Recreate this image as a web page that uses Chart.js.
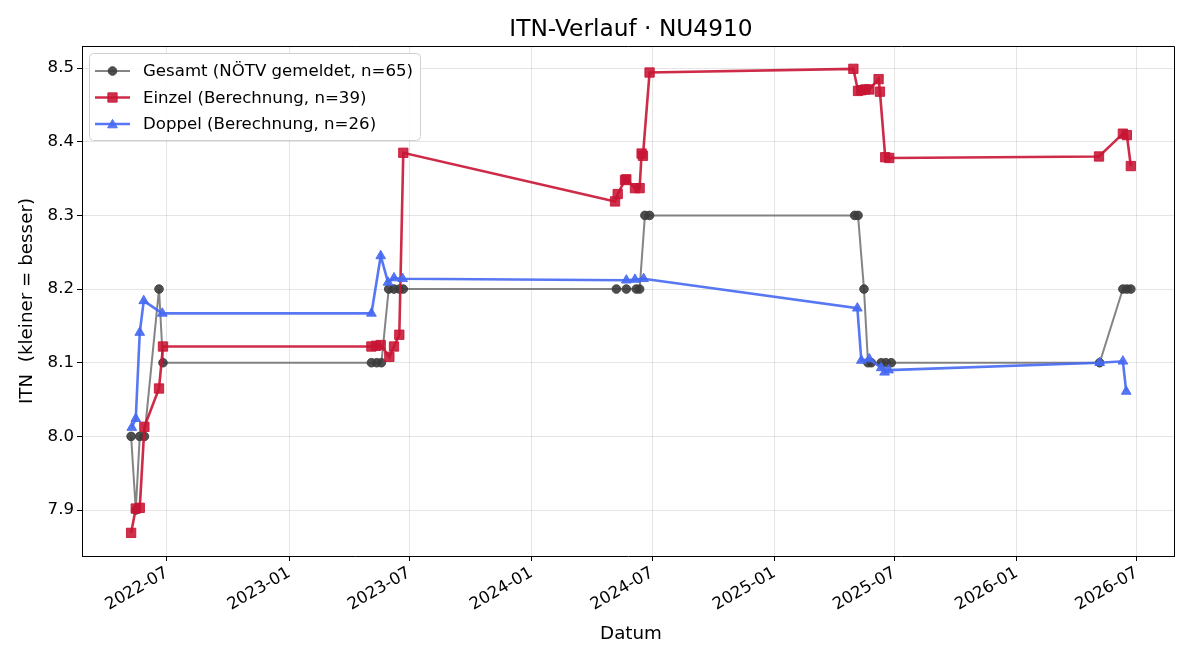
<!DOCTYPE html>
<html>
<head>
<meta charset="utf-8">
<script src="https://cdn.jsdelivr.net/npm/chart.js@4.4.1/dist/chart.umd.min.js"></script>
<style>
  html, body { margin: 0; padding: 0; background: #fff; }
  #wrap { width: 1200px; height: 660px; position: relative; }
</style>
</head>
<body>
<div id="wrap"><canvas id="c" width="1200" height="660"></canvas></div>
<script>
// ---- data ----
const chartTitle = "ITN-Verlauf · NU4910";
const xAxisTitle = "Datum";
const yAxisTitle = "ITN  (kleiner = besser)";

const gesamtLabel = "Gesamt (NÖTV gemeldet, n=65)";
const gesamtDates = [
  "2022-05-08","2022-05-15","2022-05-21","2022-05-28","2022-06-19","2022-06-25",
  "2023-05-05","2023-05-13","2023-05-20","2023-05-31","2023-06-08","2023-06-16","2023-06-22",
  "2024-05-08","2024-05-23","2024-06-07","2024-06-12","2024-06-20","2024-06-27",
  "2025-05-02","2025-05-07","2025-05-16","2025-05-22","2025-05-27","2025-06-11","2025-06-18","2025-06-26",
  "2026-05-06","2026-06-10","2026-06-16","2026-06-22"
];
const gesamtValues = [
  8.0, 7.9, 8.0, 8.0, 8.2, 8.1,
  8.1, 8.1, 8.1, 8.2, 8.2, 8.2, 8.2,
  8.2, 8.2, 8.2, 8.2, 8.3, 8.3,
  8.3, 8.3, 8.2, 8.1, 8.1, 8.1, 8.1, 8.1,
  8.1, 8.2, 8.2, 8.2
];

const einzelLabel = "Einzel (Berechnung, n=39)";
const einzelDates = [
  "2022-05-08","2022-05-15","2022-05-21","2022-05-28","2022-06-19","2022-06-25",
  "2023-05-05","2023-05-12","2023-05-19","2023-06-01","2023-06-08","2023-06-16","2023-06-22",
  "2024-05-06","2024-05-10","2024-05-21","2024-05-23","2024-06-05","2024-06-12","2024-06-15","2024-06-17","2024-06-27",
  "2025-04-30","2025-05-07","2025-05-12","2025-05-18","2025-05-24","2025-06-07","2025-06-09","2025-06-17","2025-06-23",
  "2026-05-05","2026-06-10","2026-06-16","2026-06-22"
];
const einzelValues = [
  7.869, 7.902, 7.903, 8.013, 8.065, 8.122,
  8.122, 8.123, 8.124, 8.108, 8.122, 8.138, 8.385,
  8.319, 8.329, 8.348, 8.349, 8.337, 8.337, 8.384, 8.381, 8.494,
  8.499, 8.469, 8.470, 8.471, 8.471, 8.485, 8.468, 8.379, 8.378,
  8.380, 8.411, 8.409, 8.367
];

const doppelLabel = "Doppel (Berechnung, n=26)";
const doppelDates = [
  "2022-05-09","2022-05-15","2022-05-21","2022-05-27","2022-06-24",
  "2023-05-05","2023-05-19","2023-05-30","2023-06-08","2023-06-21",
  "2024-05-23","2024-06-05","2024-06-18",
  "2025-05-06","2025-05-12","2025-05-24","2025-06-11","2025-06-16","2025-06-22",
  "2026-05-06","2026-06-10","2026-06-15"
];
const doppelValues = [
  8.012, 8.024, 8.141, 8.184, 8.167,
  8.167, 8.245, 8.209, 8.215, 8.214,
  8.212, 8.213, 8.214,
  8.174, 8.103, 8.105, 8.093, 8.087, 8.090,
  8.100, 8.102, 8.061
];

const xTickDates = ["2022-07-01","2023-01-01","2023-07-01","2024-01-01","2024-07-01","2025-01-01","2025-07-01","2026-01-01","2026-07-01"];
const yTickValues = [7.9, 8.0, 8.1, 8.2, 8.3, 8.4, 8.5];
const xMinDate = "2022-02-23";
const xMaxDate = "2026-08-26";
const yMin = 7.8376;
const yMax = 8.530;

// ---- helpers ----
const toTs = s => Date.parse(s + "T00:00:00Z");
const pts = (dates, vals) => dates.map((d, i) => ({ x: toTs(d), y: vals[i] }));
const fmtMonth = v => {
  const d = new Date(v);
  return d.getUTCFullYear() + "-" + String(d.getUTCMonth() + 1).padStart(2, "0");
};
const FONT = "'DejaVu Sans', sans-serif";
const RADII = { circle: 4.3, rect: 6.6, triangle: 5.6 };

const frameAndText = {
  id: "frameAndText",
  afterDraw(chart) {
    const ctx = chart.ctx;
    const a = chart.chartArea;
    ctx.save();
    // frame (top and right spines)
    ctx.strokeStyle = "#000";
    ctx.lineWidth = 1;
    ctx.beginPath();
    ctx.moveTo(a.left, a.top + 0.5);
    ctx.lineTo(a.right + 0.5, a.top + 0.5);
    ctx.lineTo(a.right + 0.5, a.bottom);
    ctx.stroke();
    // title
    ctx.fillStyle = "#000";
    ctx.font = "23.3px " + FONT;
    ctx.textAlign = "center";
    ctx.textBaseline = "alphabetic";
    ctx.fillText(chartTitle, (a.left + a.right) / 2 + 3, 36);
    // x-axis title
    ctx.font = "18.3px " + FONT;
    ctx.fillText(xAxisTitle, (a.left + a.right) / 2 + 3, 639);
    // y-axis title
    ctx.save();
    ctx.translate(32, (a.top + a.bottom) / 2);
    ctx.rotate(-Math.PI / 2);
    ctx.textAlign = "center";
    ctx.fillText(yAxisTitle, 0, 0);
    ctx.restore();

    // legend
    const lx = 89, ly = 53, lw = 331, lh = 87, r = 4;
    ctx.fillStyle = "rgba(255,255,255,0.85)";
    ctx.strokeStyle = "#d0d0d0";
    ctx.lineWidth = 1;
    ctx.beginPath();
    ctx.moveTo(lx + r + 0.5, ly + 0.5);
    ctx.lineTo(lx + lw - r + 0.5, ly + 0.5);
    ctx.quadraticCurveTo(lx + lw + 0.5, ly + 0.5, lx + lw + 0.5, ly + r + 0.5);
    ctx.lineTo(lx + lw + 0.5, ly + lh - r + 0.5);
    ctx.quadraticCurveTo(lx + lw + 0.5, ly + lh + 0.5, lx + lw - r + 0.5, ly + lh + 0.5);
    ctx.lineTo(lx + r + 0.5, ly + lh + 0.5);
    ctx.quadraticCurveTo(lx + 0.5, ly + lh + 0.5, lx + 0.5, ly + lh - r + 0.5);
    ctx.lineTo(lx + 0.5, ly + r + 0.5);
    ctx.quadraticCurveTo(lx + 0.5, ly + 0.5, lx + r + 0.5, ly + 0.5);
    ctx.closePath();
    ctx.fill();
    ctx.stroke();
    const rows = [71, 97.5, 124];
    chart.data.datasets.forEach((ds, i) => {
      const y = rows[i];
      ctx.strokeStyle = ds.borderColor;
      ctx.lineWidth = ds.borderWidth;
      ctx.beginPath();
      ctx.moveTo(95, y);
      ctx.lineTo(130, y);
      ctx.stroke();
      ctx.fillStyle = ds.pointBackgroundColor;
      ctx.strokeStyle = ds.pointBorderColor;
      ctx.lineWidth = 1;
      Chart.helpers.drawPoint(ctx, {
        pointStyle: ds.pointStyle, rotation: 0, borderWidth: 1,
        radius: RADII[ds.pointStyle]
      }, 112.5, y + (ds.pointStyle === "triangle" ? 1 : 0));
      ctx.fillStyle = "#000";
      ctx.font = "16.6px " + FONT;
      ctx.textAlign = "left";
      ctx.textBaseline = "middle";
      ctx.fillText(ds.label, 143, y + 1);
    });
    ctx.restore();
  }
};

const ctx = document.getElementById("c").getContext("2d");
const chart = new Chart(ctx, {
  type: "line",
  data: {
    datasets: [
      {
        label: gesamtLabel,
        data: pts(gesamtDates, gesamtValues),
        borderColor: "rgba(110,110,110,0.85)",
        borderWidth: 2,
        pointStyle: "circle",
        pointRadius: RADII.circle,
        pointBackgroundColor: "rgba(60,60,60,0.9)",
        pointBorderColor: "rgba(60,60,60,0.9)",
        pointBorderWidth: 1,
        order: 3,
        tension: 0
      },
      {
        label: einzelLabel,
        data: pts(einzelDates, einzelValues),
        borderColor: "rgba(200,20,52,0.9)",
        borderWidth: 2.6,
        pointStyle: "rect",
        pointRadius: RADII.rect,
        pointBackgroundColor: "rgba(200,20,52,0.88)",
        pointBorderColor: "rgba(200,20,52,0.88)",
        pointBorderWidth: 1,
        order: 2,
        tension: 0
      },
      {
        label: doppelLabel,
        data: pts(doppelDates, doppelValues),
        borderColor: "rgba(70,105,242,0.9)",
        borderWidth: 2.6,
        pointStyle: "triangle",
        pointRadius: RADII.triangle,
        pointBackgroundColor: "rgba(70,105,242,0.9)",
        pointBorderColor: "rgba(70,105,242,0.9)",
        pointBorderWidth: 1,
        order: 1,
        tension: 0
      }
    ]
  },
  options: {
    responsive: false,
    animation: false,
    devicePixelRatio: 1,
    layout: { padding: { top: 46, right: 26, left: 0, bottom: 0 } },
    plugins: {
      legend: { display: false },
      title: { display: false },
      tooltip: { enabled: false }
    },
    scales: {
      x: {
        type: "linear",
        min: toTs(xMinDate),
        max: toTs(xMaxDate),
        afterBuildTicks: axis => { axis.ticks = xTickDates.map(d => ({ value: toTs(d) })); },
        afterFit: s => { s.height = 104; },
        ticks: {
          callback: v => fmtMonth(v),
          autoSkip: false,
          minRotation: 30,
          maxRotation: 30,
          color: "#000",
          font: { family: FONT, size: 16.6 },
          padding: 2
        },
        grid: {
          color: "rgba(0,0,0,0.1)",
          tickColor: "#000",
          tickLength: 5,
          lineWidth: 1
        },
        border: { color: "#000", width: 1 }
      },
      y: {
        type: "linear",
        min: yMin,
        max: yMax,
        afterBuildTicks: axis => { axis.ticks = yTickValues.map(v => ({ value: v })); },
        afterFit: s => { s.width = 82; },
        ticks: {
          callback: v => Number(v).toFixed(1),
          color: "#000",
          font: { family: FONT, size: 16.6 },
          padding: 3
        },
        grid: {
          color: "rgba(0,0,0,0.1)",
          tickColor: "#000",
          tickLength: 5,
          lineWidth: 1
        },
        border: { color: "#000", width: 1 }
      }
    }
  },
  plugins: [frameAndText]
});
</script>
</body>
</html>
